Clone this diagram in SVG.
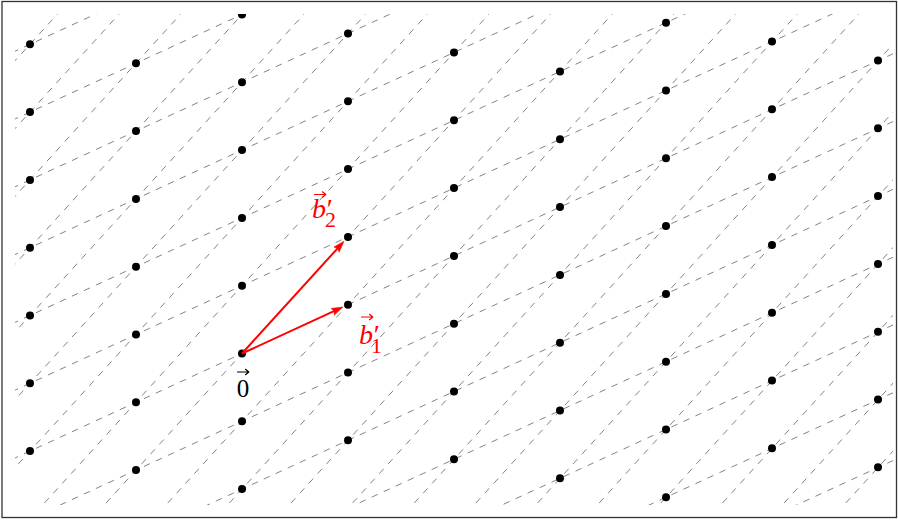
<svg xmlns="http://www.w3.org/2000/svg" xmlns:xlink="http://www.w3.org/1999/xlink" width="898" height="520" viewBox="0 0 898 520">
<style>
.grid{stroke:#7c7c7c;stroke-width:0.95;stroke-dasharray:6.6 6.6;fill:none}
.pt{fill:#000}
.vec{stroke:#ff0000;stroke-width:2;fill:none}
.lbl{font-family:"Liberation Serif","DejaVu Serif",serif}
.acc{stroke-width:1.2;fill:none;stroke-linecap:round;stroke-linejoin:round}
</style>
<defs>
<clipPath id="clip"><rect x="15" y="14" width="878" height="491"/></clipPath>
<line id="sh" class="grid" x1="0" y1="464.91" x2="898" y2="51.49"/>
<line id="st" class="grid" x1="563.36" y1="0" x2="90.64" y2="520"/>
<marker id="ah" markerUnits="userSpaceOnUse" markerWidth="13" markerHeight="9" refX="4" refY="4" orient="auto">
<path d="M0,0.2 L11.5,4 L0,7.8 L2,4 Z" fill="#ff0000" stroke="#ff0000" stroke-width="0.5" stroke-linejoin="round"/>
</marker>
</defs>
<rect x="2" y="1.5" width="894.5" height="516" fill="#fff" stroke="#333" stroke-width="1.3"/>
<g id="lattice-lines" clip-path="url(#clip)">
<use xlink:href="#sh" transform="translate(0,474.6)"/>
<use xlink:href="#sh" transform="translate(0,406.8)"/>
<use xlink:href="#sh" transform="translate(0,339)"/>
<use xlink:href="#sh" transform="translate(0,271.2)"/>
<use xlink:href="#sh" transform="translate(0,203.4)"/>
<use xlink:href="#sh" transform="translate(0,135.6)"/>
<use xlink:href="#sh" transform="translate(0,67.8)"/>
<use xlink:href="#sh"/>
<use xlink:href="#sh" transform="translate(0,-67.8)"/>
<use xlink:href="#sh" transform="translate(0,-135.6)"/>
<use xlink:href="#sh" transform="translate(0,-203.4)"/>
<use xlink:href="#sh" transform="translate(0,-271.2)"/>
<use xlink:href="#sh" transform="translate(0,-339)"/>
<use xlink:href="#sh" transform="translate(0,-406.8)"/>
<use xlink:href="#st" transform="translate(-493.12,0)"/>
<use xlink:href="#st" transform="translate(-431.48,0)"/>
<use xlink:href="#st" transform="translate(-369.84,0)"/>
<use xlink:href="#st" transform="translate(-308.2,0)"/>
<use xlink:href="#st" transform="translate(-246.56,0)"/>
<use xlink:href="#st" transform="translate(-184.92,0)"/>
<use xlink:href="#st" transform="translate(-123.28,0)"/>
<use xlink:href="#st" transform="translate(-61.64,0)"/>
<use xlink:href="#st"/>
<use xlink:href="#st" transform="translate(61.64,0)"/>
<use xlink:href="#st" transform="translate(123.28,0)"/>
<use xlink:href="#st" transform="translate(184.92,0)"/>
<use xlink:href="#st" transform="translate(246.56,0)"/>
<use xlink:href="#st" transform="translate(308.2,0)"/>
<use xlink:href="#st" transform="translate(369.84,0)"/>
<use xlink:href="#st" transform="translate(431.48,0)"/>
<use xlink:href="#st" transform="translate(493.12,0)"/>
<use xlink:href="#st" transform="translate(554.76,0)"/>
<use xlink:href="#st" transform="translate(616.4,0)"/>
<use xlink:href="#st" transform="translate(678.04,0)"/>
<use xlink:href="#st" transform="translate(739.68,0)"/>
</g>
<g id="lattice-points" clip-path="url(#clip)" class="pt">
<g id="col-a">
<circle cx="30" cy="44.3" r="4"/><circle cx="30" cy="112.1" r="4"/><circle cx="30" cy="179.9" r="4"/><circle cx="30" cy="247.7" r="4"/><circle cx="30" cy="315.5" r="4"/><circle cx="30" cy="383.3" r="4"/><circle cx="30" cy="451.1" r="4"/>
</g>
<g id="col-b">
<circle cx="136" cy="63.3" r="4"/><circle cx="136" cy="131.1" r="4"/><circle cx="136" cy="198.9" r="4"/><circle cx="136" cy="266.7" r="4"/><circle cx="136" cy="334.5" r="4"/><circle cx="136" cy="402.3" r="4"/><circle cx="136" cy="470.1" r="4"/>
</g>
<g id="col-c">
<circle cx="242" cy="14.5" r="4"/><circle cx="242" cy="82.3" r="4"/><circle cx="242" cy="150.1" r="4"/><circle cx="242" cy="217.9" r="4"/><circle cx="242" cy="285.7" r="4"/><circle id="origin" cx="242" cy="353.5" r="4"/><circle cx="242" cy="421.3" r="4"/><circle cx="242" cy="489.1" r="4"/>
</g>
<g id="col-d">
<circle cx="348" cy="33.5" r="4"/><circle cx="348" cy="101.3" r="4"/><circle cx="348" cy="169.1" r="4"/><circle id="p-b2" cx="348" cy="236.9" r="4"/><circle id="p-b1" cx="348" cy="304.7" r="4"/><circle cx="348" cy="372.5" r="4"/><circle cx="348" cy="440.3" r="4"/>
</g>
<g id="col-e">
<circle cx="454" cy="52.5" r="4"/><circle cx="454" cy="120.3" r="4"/><circle cx="454" cy="188.1" r="4"/><circle cx="454" cy="255.9" r="4"/><circle cx="454" cy="323.7" r="4"/><circle cx="454" cy="391.5" r="4"/><circle cx="454" cy="459.3" r="4"/>
</g>
<g id="col-f">
<circle cx="560" cy="71.5" r="4"/><circle cx="560" cy="139.3" r="4"/><circle cx="560" cy="207.1" r="4"/><circle cx="560" cy="274.9" r="4"/><circle cx="560" cy="342.7" r="4"/><circle cx="560" cy="410.5" r="4"/><circle cx="560" cy="478.3" r="4"/>
</g>
<g id="col-g">
<circle cx="666" cy="22.7" r="4"/><circle cx="666" cy="90.5" r="4"/><circle cx="666" cy="158.3" r="4"/><circle cx="666" cy="226.1" r="4"/><circle cx="666" cy="293.9" r="4"/><circle cx="666" cy="361.7" r="4"/><circle cx="666" cy="429.5" r="4"/><circle cx="666" cy="497.3" r="4"/>
</g>
<g id="col-h">
<circle cx="772" cy="41.5" r="4"/><circle cx="772" cy="109.3" r="4"/><circle cx="772" cy="177.1" r="4"/><circle cx="772" cy="244.9" r="4"/><circle cx="772" cy="312.7" r="4"/><circle cx="772" cy="380.5" r="4"/><circle cx="772" cy="448.3" r="4"/>
</g>
<g id="col-i">
<circle cx="878" cy="60.5" r="4"/><circle cx="878" cy="128.3" r="4"/><circle cx="878" cy="196.1" r="4"/><circle cx="878" cy="263.9" r="4"/><circle cx="878" cy="331.7" r="4"/><circle cx="878" cy="399.5" r="4"/><circle cx="878" cy="467.3" r="4"/>
</g>
</g>
<g id="connectors">
<path id="vec-b1" class="vec" d="M242,353.5 L336.1,310.2" marker-end="url(#ah)"/>
<path id="vec-b2" class="vec" d="M242,353.5 L339.0,246.8" marker-end="url(#ah)"/>
</g>
<g id="label-b2" class="lbl" fill="#ff0000">
<path class="acc" stroke="#ff0000" d="M314.5,194.5 H325.5 M322.5,191.8 L325.8,194.5 L322.5,197.2"/>
<text x="312" y="218" font-size="28"><tspan font-style="italic">b</tspan><tspan x="325" font-style="italic">′</tspan><tspan x="325" y="226.5" font-size="22">2</tspan></text>
</g>
<g id="label-b1" class="lbl" fill="#ff0000">
<path class="acc" stroke="#ff0000" d="M361.5,317 H372.5 M369.5,314.3 L372.8,317 L369.5,319.7"/>
<text x="359" y="344" font-size="28"><tspan font-style="italic">b</tspan><tspan x="372" font-style="italic">′</tspan><tspan x="371" y="352.5" font-size="22">1</tspan></text>
</g>
<g id="label-0" class="lbl" fill="#000">
<path class="acc" stroke="#000" d="M237.5,372 H248.5 M245.5,369.3 L248.8,372 L245.5,374.7"/>
<text x="243" y="396.5" font-size="25" text-anchor="middle">0</text>
</g>
</svg>
